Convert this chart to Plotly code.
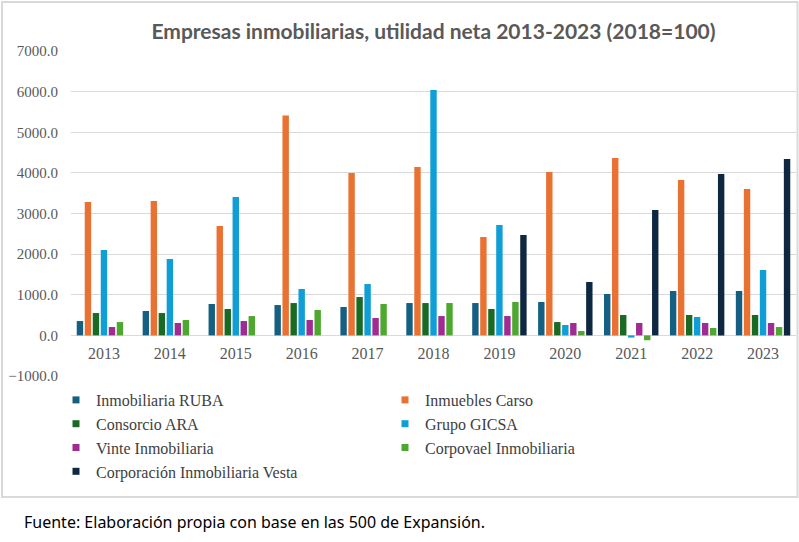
import plotly.graph_objects as go

years = ["2013", "2014", "2015", "2016", "2017", "2018", "2019", "2020", "2021", "2022", "2023"]

ruba = [353, 600, 772, 747, 698, 796, 796, 821, 1018, 1092, 1092]
carso = [3284, 3309, 2693, 5411, 3998, 4146, 2422, 4023, 4368, 3826, 3604]
ara = [550, 550, 649, 796, 944, 796, 649, 328, 501, 501, 501]
gicsa = [2102, 1880, 3407, 1141, 1264, 6043, 2718, 255, -55, 452, 1609]
vinte = [205, 304, 353, 378, 427, 476, 476, 304, 304, 304, 304]
corpovael = [328, 378, 476, 624, 772, 796, 821, 107, -120, 181, 205]
vesta = [None, None, None, None, None, None, 2471, 1314, 3087, 3974, 4343]

series_names = ["Inmobiliaria RUBA", "Inmuebles Carso", "Consorcio ARA", "Grupo GICSA",
                "Vinte Inmobiliaria", "Corpovael Inmobiliaria", "Corporación Inmobiliaria Vesta"]
series_values = [ruba, carso, ara, gicsa, vinte, corpovael, vesta]
colors = ["#156082", "#E97132", "#196B24", "#0F9ED5", "#A02B93", "#4EA72E", "#0E2841"]

y_ticks = [-1000, 0, 1000, 2000, 3000, 4000, 5000, 6000, 7000]
y_min, y_max = -1000, 7000

SERIF = "Liberation Serif"

fig = go.Figure()
for name, vals, col in zip(series_names, series_values, colors):
    fig.add_trace(go.Bar(x=years, y=vals, name=name, marker=dict(color=col, line=dict(width=0)),
                         showlegend=False))
# legend proxies with small square markers
for name, col in zip(series_names, colors):
    fig.add_trace(go.Scatter(x=[None], y=[None], mode="markers", name=name,
                             marker=dict(symbol="square", size=7, color=col),
                             showlegend=True))

W, H = 799, 542
L, R, T, B = 71, 3, 51, 166
pw, ph = W - L - R, H - T - B

def px_x(p):
    return (p - L) / pw

def px_y(p):
    return (H - B - p) / ph

fig.update_layout(
    width=W, height=H,
    margin=dict(l=L, r=R, t=T, b=B, autoexpand=False),
    paper_bgcolor="white", plot_bgcolor="white",
    barmode="group", bargap=0.15, bargroupgap=0.2,
    title=dict(text="<b>Empresas inmobiliarias, utilidad neta 2013-2023 (2018=100)</b>",
               x=0.5, xref="paper", xanchor="center", y=1 - 32 / H, yanchor="middle",
               font=dict(family="Lato", size=21, color="#595959")),
    xaxis=dict(type="category", showgrid=False, showline=False, zeroline=False,
               anchor="free", position=(0 - y_min) / (y_max - y_min),
               ticks="", tickfont=dict(family=SERIF, size=16, color="#595959"),
               ticklabelstandoff=7),
    yaxis=dict(range=[y_min, y_max], tickvals=y_ticks, tickformat=".1f",
               showgrid=True, gridcolor="#D9D9D9", gridwidth=1.3,
               zeroline=True, zerolinecolor="#D9D9D9", zerolinewidth=1.3,
               showline=False, ticks="", ticklabelstandoff=12,
               tickfont=dict(family=SERIF, size=15, color="#595959")),
    legend=dict(orientation="h", x=px_x(56), xanchor="left", y=px_y(383), yanchor="top",
                entrywidth=284, entrywidthmode="pixels", tracegroupgap=0,
                font=dict(family=SERIF, size=16, color="#404040"),
                bgcolor="rgba(0,0,0,0)", traceorder="normal"),
    shapes=[dict(type="rect", xref="paper", yref="paper",
                 x0=px_x(2), x1=px_x(797.5), y0=px_y(497), y1=px_y(2),
                 line=dict(color="#D9D9D9", width=2), fillcolor="rgba(0,0,0,0)", layer="below")],
    annotations=[dict(text="Fuente: Elaboración propia con base en las 500 de Expansión.",
                      xref="paper", yref="paper", x=px_x(22), y=px_y(522),
                      xanchor="left", yanchor="middle", showarrow=False,
                      font=dict(family="Noto Sans", size=16, color="#000000"))],
)

fig.write_html("out.html", config={"displayModeBar": False},
               post_script="document.body.style.margin='0';document.body.style.padding='0';")
